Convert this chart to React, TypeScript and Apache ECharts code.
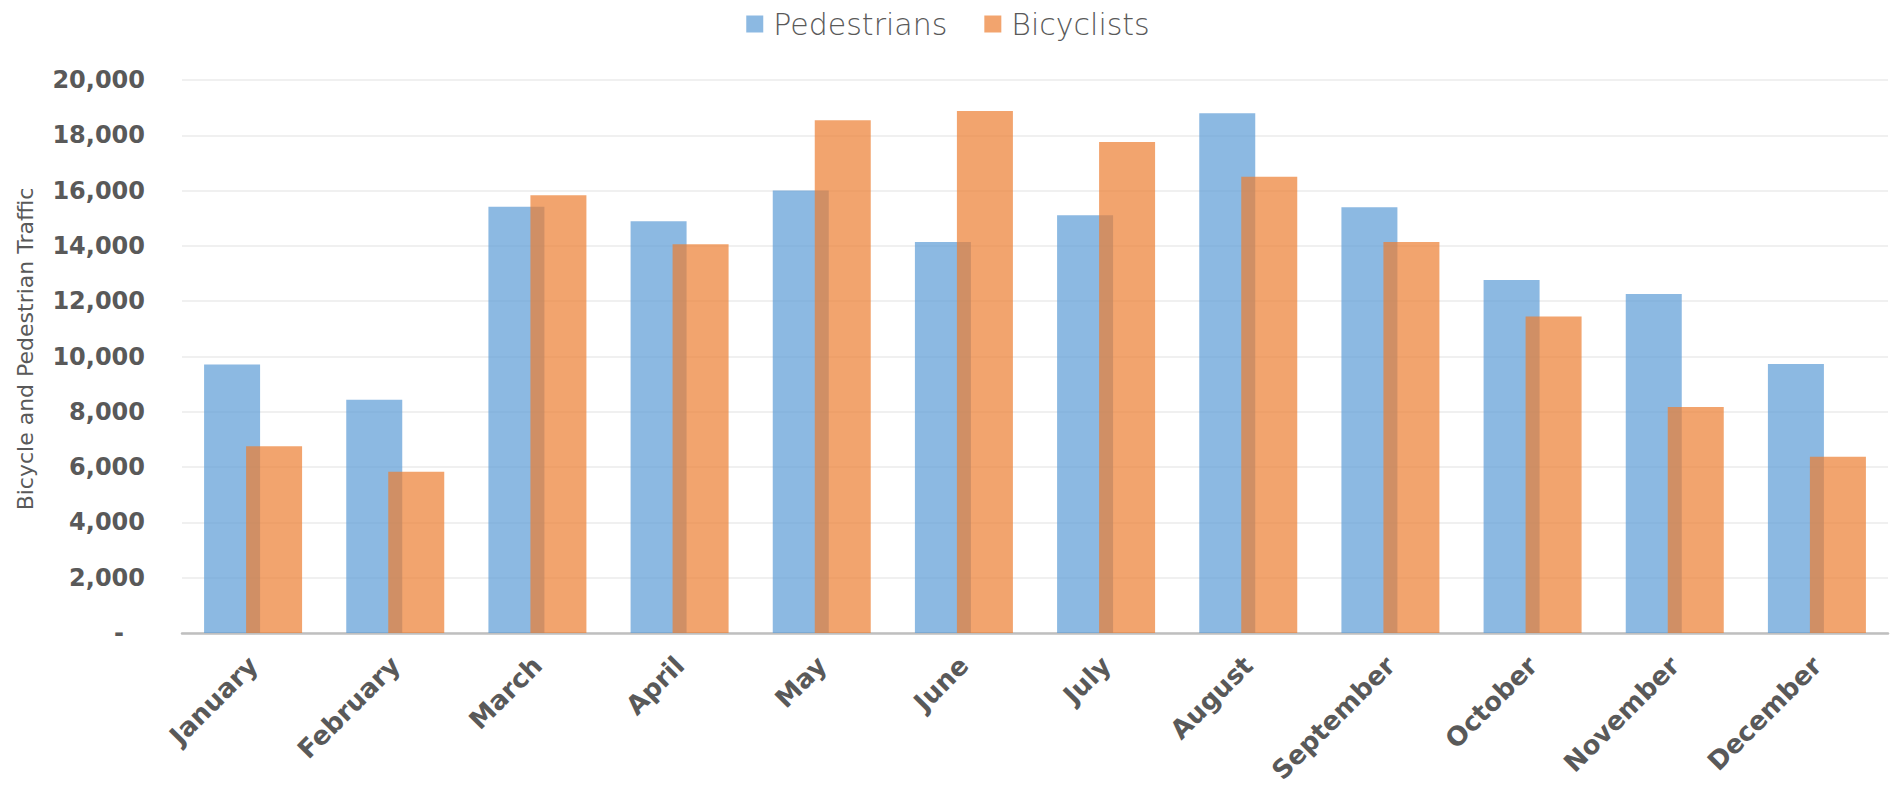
import React, { useEffect, useRef } from "react";
import * as echarts from "echarts";

const months = [
  "January", "February", "March", "April", "May", "June",
  "July", "August", "September", "October", "November", "December",
];
const pedestrians = [9710, 8440, 15420, 14890, 16000, 14140, 15110, 18800, 15400, 12770, 12260, 9730];
const bicyclists = [6750, 5830, 15830, 14060, 18540, 18880, 17760, 16500, 14140, 11450, 8170, 6370];
const yAxisTitle = "Bicycle and Pedestrian Traffic";
const seriesNames = ["Pedestrians", "Bicyclists"];

const FONT = "'DejaVu Sans', 'Noto Sans', sans-serif";
const TEXT = "#595959";

export default function App() {
  const ref = useRef<HTMLDivElement>(null);
  useEffect(() => {
    if (!ref.current) return;
    const chart = echarts.init(ref.current, null, { renderer: "svg" });
    chart.setOption({
      animation: false,
      backgroundColor: "#ffffff",
      textStyle: { fontFamily: FONT },
      legend: {
        top: 4,
        left: "center",
        itemWidth: 17,
        itemHeight: 17,
        itemGap: 37,
        icon: "rect",
        textStyle: { fontFamily: FONT, fontSize: 30, color: TEXT, fontWeight: 300, padding: [0, 0, 0, 5] },
        data: seriesNames,
      },
      grid: { left: 182, right: 8, top: 80, bottom: 176, containLabel: false },
      xAxis: {
        type: "category",
        data: months,
        axisLine: { lineStyle: { color: "#BFBFBF", width: 2.5 } },
        axisTick: { show: false },
        axisLabel: {
          rotate: 45,
          interval: 0,
          margin: 28,
          fontFamily: FONT,
          fontSize: 26,
          fontWeight: "bold",
          color: TEXT,
        },
      },
      yAxis: {
        type: "value",
        min: 0,
        max: 20000,
        interval: 2000,
        axisLine: { show: false },
        axisTick: { show: false },
        splitLine: { lineStyle: { color: "#F0F0F0", width: 2 } },
        axisLabel: {
          margin: 37,
          fontFamily: FONT,
          fontSize: 24,
          fontWeight: "bold",
          color: TEXT,
          formatter: (v: number) => (v === 0 ? "{d|-}" : v.toLocaleString("en-US")),
          rich: {
            d: { fontFamily: FONT, fontSize: 24, fontWeight: "bold", color: TEXT, padding: [0, 21, 0, 0] },
          },
        },
      },
      graphic: [
        {
          type: "text",
          x: 25,
          y: 349,
          rotation: Math.PI / 2,
          style: {
            text: yAxisTitle,
            fontFamily: FONT,
            fontSize: 22,
            fill: TEXT,
            align: "center",
            verticalAlign: "middle",
          },
        },
      ],
      series: [
        {
          name: seriesNames[0],
          type: "bar",
          data: pedestrians,
          barWidth: 56,
          barGap: "-25%",
          itemStyle: { color: "#5B9BD5", opacity: 0.7 },
        },
        {
          name: seriesNames[1],
          type: "bar",
          data: bicyclists,
          barWidth: 56,
          barGap: "-25%",
          itemStyle: { color: "#ED7D31", opacity: 0.7 },
        },
      ],
    });
    return () => chart.dispose();
  }, []);
  return (
    <div
      ref={ref}
      style={{ position: "fixed", left: 0, top: 0, width: 1896, height: 809 }}
    />
  );
}
